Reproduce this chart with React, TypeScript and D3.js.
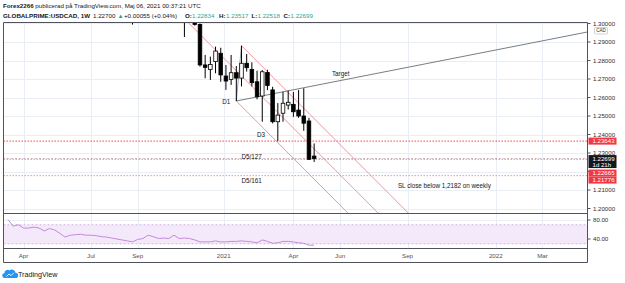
import React, { useEffect, useRef } from 'react';
import * as d3 from 'd3';

// weekly candles (Monday dates), USDCAD 1W
const candleStart = '2020-08-31';
const opens = [1.3050, 1.3060, 1.3170, 1.3200, 1.3360, 1.3280, 1.3180, 1.3190, 1.3180, 1.3320, 1.3060, 1.3130, 1.3080, 1.2995, 1.2776, 1.2752, 1.2794, 1.2839, 1.2716, 1.2698, 1.2734, 1.2705, 1.2785, 1.2752, 1.2685, 1.2608, 1.2735, 1.2641, 1.2469, 1.2515, 1.2559, 1.2563, 1.2532, 1.2500, 1.2473, 1.22834];
const highs = [1.3165, 1.3260, 1.3220, 1.3420, 1.3390, 1.3340, 1.3260, 1.3210, 1.3390, 1.3370, 1.3170, 1.3140, 1.3130, 1.3000, 1.2830, 1.2821, 1.2875, 1.2869, 1.2776, 1.2830, 1.2770, 1.2880, 1.2835, 1.2790, 1.2745, 1.2749, 1.2750, 1.2658, 1.2570, 1.2631, 1.2637, 1.2630, 1.2640, 1.2650, 1.2490, 1.23517];
const lows = [1.2994, 1.3040, 1.3080, 1.3190, 1.3250, 1.3170, 1.3100, 1.3080, 1.3150, 1.3030, 1.2927, 1.3050, 1.2988, 1.2767, 1.2704, 1.2695, 1.2731, 1.2685, 1.2641, 1.2668, 1.2581, 1.2660, 1.2740, 1.2660, 1.2590, 1.2469, 1.2640, 1.2460, 1.2364, 1.2469, 1.2535, 1.2495, 1.2490, 1.2420, 1.2262, 1.22518];
const closes = [1.3060, 1.3170, 1.3200, 1.3360, 1.3280, 1.3180, 1.3190, 1.3180, 1.3320, 1.3060, 1.3130, 1.3080, 1.2995, 1.2776, 1.2763, 1.2779, 1.2851, 1.2722, 1.2689, 1.2734, 1.2705, 1.2785, 1.2761, 1.2680, 1.2604, 1.2739, 1.2665, 1.2469, 1.2505, 1.2569, 1.2574, 1.2523, 1.2500, 1.2461, 1.2266, 1.22699];

// RSI(14), weekly
const rsiStart = '2020-03-16';
const rsiValues = [81, 67, 70, 63, 63, 65, 63, 57, 62, 59, 52, 44, 48, 49, 50, 48, 48, 47, 45, 44, 42, 40, 38, 36, 34, 39, 41, 48, 45, 41, 42, 41, 48, 41, 42, 41, 38, 34, 34, 34, 36, 34, 34, 35, 35, 36, 35, 34, 32, 38, 35, 31, 32, 35, 35, 34, 32, 31, 27, 27];

const priceTicks = [1.30, 1.29, 1.28, 1.27, 1.26, 1.25, 1.24, 1.23, 1.22, 1.21, 1.20];
const rsiTicks = [80, 40];
const timeTickDates = ['2020-04-06', '2020-07-06', '2020-09-07', '2021-01-01', '2021-04-05', '2021-06-07', '2021-09-06', '2022-01-03', '2022-03-07'];
const timeTickLabels = ['Apr', 'Jul', 'Sep', '2021', 'Apr', 'Jun', 'Sep', '2022', 'Mar'];

// horizontal levels
const levelPrices = [1.23643, 1.22665, 1.21776];
const levelColors = ['#f23645', '#f26a74', '#f58a92'];
const lastPrice = 1.22699;
const lastCountdown = '1d 21h';

// drawings
const pitchforkDates = ['2020-11-09', '2021-01-18', '2021-01-25'];
const pitchforkPrices = [1.3026, 1.2581, 1.2880];
const targetDates = ['2021-01-18', '2022-05-09'];
const targetPrices = [1.2581, 1.2956];
const noteTexts = ['D1', 'D3', 'D5/127', 'D5/161', 'Target', 'SL close below 1,2182 on weekly'];
const noteDates = ['2020-12-30', '2021-02-15', '2021-01-25', '2021-01-25', '2021-05-27', '2021-08-24'];
const notePrices = [1.2567, 1.2386, 1.2268, 1.2138, 1.2716, 1.2111];

const parse = d3.utcParse('%Y-%m-%d');

const App: React.FC = () => {
	const svgRef = useRef<SVGSVGElement>(null);

	useEffect(() => {
		if (svgRef.current == null) return;
		const width = 625;
		const height = 283;
		const left = 3.5, right = 587.5, top = 22.5, mainBottom = 213.5, rsiBottom = 248.5, bottom = 262.5;
		const textColor = '#131722';
		const frameColor = '#50535e';

		const x = d3.scaleUtc()
			.domain([parse('2021-01-01'), parse('2022-01-01')])
			.range([223.7, 494.3]);
		const y = d3.scaleLinear().domain([1.20, 1.29]).range([208.5, 42]);
		const yr = d3.scaleLinear().domain([40, 80]).range([239, 220]);

		const svg = d3.select(svgRef.current)
			.attr('width', width)
			.attr('height', height);
		svg.selectAll('*').remove();

		svg.append('rect').attr('width', width).attr('height', height).attr('fill', '#fff');

		const defs = svg.append('defs');
		defs.append('clipPath').attr('id', 'main-clip').append('rect')
			.attr('x', left).attr('y', top).attr('width', right - left).attr('height', mainBottom - top);
		defs.append('clipPath').attr('id', 'rsi-clip').append('rect')
			.attr('x', left).attr('y', mainBottom).attr('width', right - left).attr('height', rsiBottom - mainBottom);

		// header
		const header = svg.append('g').attr('font-size', 6.2).attr('fill', textColor);
		const row1 = header.append('text').attr('x', 3).attr('y', 8);
		row1.append('tspan').attr('font-weight', 'bold').text('Forex2266');
		row1.append('tspan').text(' publicerad på TradingView.com, Maj 06, 2021 00:37:21 UTC');
		const row2 = [
			{ t: 'GLOBALPRIME:USDCAD, 1W', x: 3, bold: true, c: textColor },
			{ t: '1.22700', x: 93, bold: false, c: textColor },
			{ t: '▲', x: 117.5, bold: false, c: '#26a69a' },
			{ t: '+0.00055 (+0.04%)', x: 124, bold: false, c: textColor },
			{ t: 'O:', x: 185, bold: true, c: textColor },
			{ t: '1.22834', x: 192, bold: false, c: '#26a69a' },
			{ t: 'H:', x: 219, bold: true, c: textColor },
			{ t: '1.23517', x: 226, bold: false, c: '#26a69a' },
			{ t: 'L:', x: 251.5, bold: true, c: textColor },
			{ t: '1.22518', x: 257.5, bold: false, c: '#26a69a' },
			{ t: 'C:', x: 283.5, bold: true, c: textColor },
			{ t: '1.22699', x: 290.5, bold: false, c: '#26a69a' }
		];
		row2.forEach(s => {
			header.append('text').attr('x', s.x).attr('y', 17.5)
				.attr('font-weight', s.bold ? 'bold' : 'normal')
				.attr('fill', s.c).text(s.t);
		});

		// grid
		const grid = svg.append('g').attr('stroke', '#e9eef4').attr('stroke-width', 1);
		timeTickDates.forEach(d => {
			const xx = Math.round(x(parse(d)!)) + 0.5;
			grid.append('line').attr('x1', xx).attr('x2', xx).attr('y1', top).attr('y2', rsiBottom);
		});
		priceTicks.forEach(p => {
			const yy = Math.round(y(p)) + 0.5;
			if (yy <= top || yy >= mainBottom) return;
			grid.append('line').attr('x1', left).attr('x2', right).attr('y1', yy).attr('y2', yy);
		});
		rsiTicks.forEach(v => {
			const yy = Math.round(yr(v)) + 0.5;
			grid.append('line').attr('x1', left).attr('x2', right).attr('y1', yy).attr('y2', yy);
		});

		// RSI pane
		const rsiG = svg.append('g').attr('clip-path', 'url(#rsi-clip)');
		rsiG.append('rect').attr('x', left).attr('width', right - left)
			.attr('y', yr(70)).attr('height', yr(30) - yr(70)).attr('fill', '#f4e9fb');
		[70, 30].forEach(v => {
			rsiG.append('line').attr('x1', left).attr('x2', right).attr('y1', yr(v)).attr('y2', yr(v))
				.attr('stroke', '#c9a6dc').attr('stroke-dasharray', '2,2').attr('stroke-width', 0.8);
		});
		const rsiStartDate = parse(rsiStart)!;
		const rsiLine = d3.line<number>()
			.x((_, i) => x(d3.utcMonday.offset(rsiStartDate, i)))
			.y(v => yr(v));
		rsiG.append('path').attr('d', rsiLine(rsiValues)).attr('fill', 'none')
			.attr('stroke', '#c48ad8').attr('stroke-width', 1);

		// main pane
		const main = svg.append('g').attr('clip-path', 'url(#main-clip)');

		// levels
		levelPrices.forEach((p, i) => {
			main.append('line').attr('x1', left).attr('x2', right).attr('y1', y(p)).attr('y2', y(p))
				.attr('stroke', levelColors[i]).attr('stroke-width', 1).attr('stroke-dasharray', '1.4,1.6');
		});
		main.append('line').attr('x1', left).attr('x2', right).attr('y1', y(lastPrice)).attr('y2', y(lastPrice))
			.attr('stroke', '#787b86').attr('stroke-width', 0.8).attr('stroke-dasharray', '1,3');

		// andrews pitchfork
		const pts = pitchforkDates.map((d, i) => [x(parse(d)!), y(pitchforkPrices[i])]);
		const [A, B, C] = pts;
		const M = [(B[0] + C[0]) / 2, (B[1] + C[1]) / 2];
		const dir = [M[0] - A[0], M[1] - A[1]];
		const far = 8;
		const pfColor = '#f3949c';
		[A, B, C].forEach(s => {
			main.append('line').attr('x1', s[0]).attr('y1', s[1])
				.attr('x2', s[0] + dir[0] * far).attr('y2', s[1] + dir[1] * far)
				.attr('stroke', pfColor).attr('stroke-width', 1);
		});
		main.append('line').attr('x1', B[0]).attr('y1', B[1]).attr('x2', C[0]).attr('y2', C[1])
			.attr('stroke', '#8a8d96').attr('stroke-width', 0.8);

		// target line
		main.append('line')
			.attr('x1', x(parse(targetDates[0])!)).attr('y1', y(targetPrices[0]))
			.attr('x2', x(parse(targetDates[1])!)).attr('y2', y(targetPrices[1]))
			.attr('stroke', '#6b6e78').attr('stroke-width', 0.9);

		// candles
		const cStart = parse(candleStart)!;
		const bw = 3.6;
		opens.forEach((o, i) => {
			const c = closes[i];
			const cx = x(d3.utcMonday.offset(cStart, i));
			const up = c >= o;
			main.append('line').attr('x1', cx).attr('x2', cx)
				.attr('y1', y(highs[i])).attr('y2', y(lows[i]))
				.attr('stroke', '#000').attr('stroke-width', 1);
			const yTop = y(Math.max(o, c));
			const yBot = y(Math.min(o, c));
			main.append('rect')
				.attr('x', cx - bw / 2).attr('width', bw)
				.attr('y', yTop).attr('height', Math.max(yBot - yTop, 0.8))
				.attr('fill', up ? '#fff' : '#000')
				.attr('stroke', '#000').attr('stroke-width', 0.8);
		});

		// notes
		noteTexts.forEach((t, i) => {
			main.append('text').attr('x', x(parse(noteDates[i])!)).attr('y', y(notePrices[i]))
				.attr('font-size', 6.3).attr('fill', textColor).text(t);
		});

		// frame
		const frame = svg.append('g').attr('stroke', frameColor).attr('stroke-width', 1).attr('fill', 'none');
		frame.append('path').attr('d', `M${left},${top}H${right}V${bottom}H${left}Z`);
		frame.append('line').attr('x1', left).attr('x2', right).attr('y1', mainBottom).attr('y2', mainBottom);
		frame.append('line').attr('x1', left).attr('x2', right).attr('y1', rsiBottom).attr('y2', rsiBottom);

		// price axis (labels hidden where the price boxes sit, as the platform does)
		const lastY = y(lastPrice);
		const boxes = [
			{ cy: y(levelPrices[0]), fill: '#f23645', lines: [levelPrices[0].toFixed(5)] },
			{ cy: lastY, fill: '#131722', lines: [lastPrice.toFixed(5), lastCountdown] },
			{ cy: lastY + 14.5, fill: '#f23645', lines: [levelPrices[1].toFixed(5)] },
			{ cy: Math.max(y(levelPrices[2]), lastY + 21.5), fill: '#f23645', lines: [levelPrices[2].toFixed(5)] }
		];
		const covered = (yy: number) => boxes.some(b => {
			const h = b.lines.length === 1 ? 7 : 13;
			return yy > b.cy - 3.5 - 1 && yy < b.cy - 3.5 + h + 2;
		});
		const axis = svg.append('g').attr('font-size', 6.1).attr('fill', '#2a2e39');
		priceTicks.forEach(p => {
			const yy = y(p);
			axis.append('line').attr('x1', right).attr('x2', right + 3).attr('y1', yy).attr('y2', yy)
				.attr('stroke', frameColor);
			if (covered(yy)) return;
			axis.append('text').attr('x', right + 5.5).attr('y', yy).attr('dy', '0.35em').text(p.toFixed(5));
		});
		axis.append('rect').attr('x', 594.5).attr('y', 27.5).attr('width', 13).attr('height', 6.5)
			.attr('fill', '#fff').attr('stroke', '#b2b5be').attr('stroke-width', 0.6).attr('rx', 1);
		axis.append('text').attr('x', 601).attr('y', 30.8).attr('dy', '0.35em').attr('text-anchor', 'middle')
			.attr('font-size', 4.6).text('CAD');
		rsiTicks.forEach(v => {
			const yy = yr(v);
			axis.append('line').attr('x1', right).attr('x2', right + 3).attr('y1', yy).attr('y2', yy)
				.attr('stroke', frameColor);
			axis.append('text').attr('x', right + 5.5).attr('y', yy).attr('dy', '0.35em').text(v.toFixed(2));
		});

		boxes.forEach(b => {
			const h = b.lines.length === 1 ? 7 : 13;
			axis.append('rect').attr('x', right + 1).attr('y', b.cy - 3.5).attr('width', 28).attr('height', h)
				.attr('fill', b.fill);
			b.lines.forEach((l, j) => {
				axis.append('text').attr('x', right + 5).attr('y', b.cy + j * 6).attr('dy', '0.35em')
					.attr('fill', '#fff').text(l);
			});
		});

		// time axis
		timeTickDates.forEach((d, i) => {
			svg.append('text').attr('x', x(parse(d)!)).attr('y', 258)
				.attr('text-anchor', 'middle').attr('font-size', 6.2).attr('fill', '#4c525e')
				.text(timeTickLabels[i]);
		});

		// logo
		const logo = svg.append('g');
		logo.append('path')
			.attr('d', 'M5,278 H15.5 A2.6,2.6 0 0 0 15.5,272.8 A3.6,3.6 0 0 0 9.5,270.5 A3.2,3.2 0 0 0 4.4,273.2 A2.4,2.4 0 0 0 5,278 Z')
			.attr('fill', '#2196f3');
		logo.append('path').attr('d', 'M6.5,276.5 L9,274 L11,275.6 L13.8,272.8')
			.attr('fill', 'none').attr('stroke', '#fff').attr('stroke-width', 0.9);
		logo.append('text').attr('x', 18).attr('y', 276.5).attr('font-size', 7.2).attr('fill', textColor)
			.text('TradingView');
	}, []);

	return (
		<svg ref={svgRef} style={{ position: 'absolute', left: 0, top: 0, fontFamily: '"Liberation Sans", Arial, sans-serif' }}></svg>
	);
};

export default App;
